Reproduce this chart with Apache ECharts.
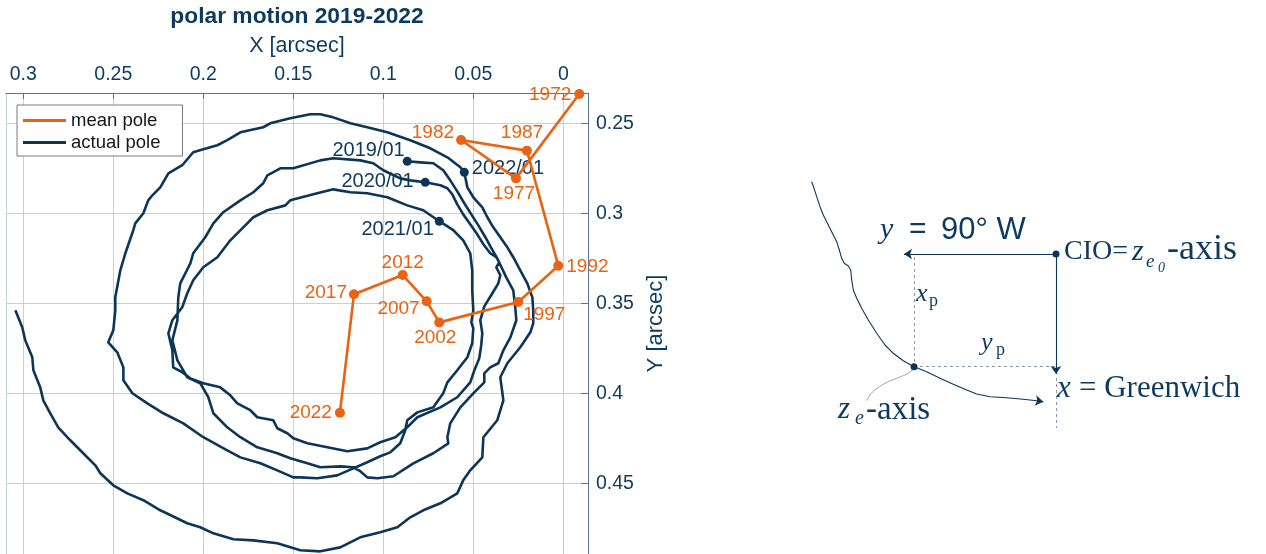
<!DOCTYPE html>
<html>
<head>
<meta charset="utf-8">
<title>polar motion 2019-2022</title>
<script src="https://cdn.jsdelivr.net/npm/echarts/dist/echarts.min.js"></script>
<style>
  html, body { margin: 0; padding: 0; background: #ffffff; }
  #chart { width: 1266px; height: 554px; }
</style>
</head>
<body>
<div id="chart"></div>
<script>
// ---- data -------------------------------------------------------------

// axis tick values (arcsec)
const xTickValues = [0, 0.05, 0.1, 0.15, 0.2, 0.25, 0.3];
const yTickValues = [0.25, 0.3, 0.35, 0.4, 0.45];

// mean pole, five-year steps
const meanYears = ['1972', '1977', '1982', '1987', '1992', '1997', '2002', '2007', '2012', '2017', '2022'];
const meanX = [-0.0089, 0.0263, 0.0568, 0.0202, 0.0028, 0.0250, 0.0689, 0.0759, 0.0892, 0.1163, 0.1241];
const meanY = [0.2337, 0.2806, 0.2593, 0.2652, 0.3291, 0.3493, 0.3606, 0.3489, 0.3343, 0.3450, 0.4108];

// start-of-year epochs on the actual pole path
const epochLabels = ['2019/01', '2020/01', '2021/01', '2022/01'];
const epochX = [0.0867, 0.0767, 0.0689, 0.0550];
const epochY = [0.2711, 0.2828, 0.3044, 0.2772];

// actual pole path [x, y], one array per year
const pole2019 = [[0.0867,0.2711],[0.0794,0.2717],[0.0722,0.2722],[0.0667,0.2761],[0.0628,0.2817],[0.0589,0.2878],[0.055,0.2944],[0.0511,0.3006],[0.0472,0.3067],[0.0433,0.3133],[0.04,0.3194],[0.0367,0.325],[0.0317,0.3356],[0.0278,0.3428],[0.0267,0.3522],[0.0261,0.3594],[0.0294,0.3689],[0.0333,0.3761],[0.0361,0.3833],[0.0406,0.3856],[0.0439,0.3889],[0.0439,0.3939],[0.05,0.4],[0.0572,0.4078],[0.0628,0.4167],[0.0644,0.4244],[0.0639,0.4278],[0.0722,0.4333],[0.0833,0.4389],[0.0944,0.4461],[0.1033,0.4472],[0.1089,0.4467],[0.1128,0.4433],[0.1167,0.4411],[0.1239,0.4406],[0.135,0.4411],[0.1422,0.4389],[0.1517,0.4361],[0.1589,0.4333],[0.17,0.43],[0.1794,0.4244],[0.1867,0.4189],[0.1944,0.4111],[0.1972,0.4022],[0.2017,0.3944],[0.2089,0.3911],[0.2144,0.3817],[0.2172,0.3706],[0.2144,0.3594],[0.2139,0.3467],[0.2128,0.3389],[0.2072,0.3278],[0.2056,0.3222],[0.1989,0.3133],[0.1944,0.3056],[0.1889,0.2994],[0.1794,0.2928],[0.1722,0.2883],[0.1667,0.2833],[0.1644,0.2789],[0.1572,0.275],[0.15,0.275],[0.135,0.2706],[0.1278,0.2694],[0.1128,0.2706],[0.1056,0.2722],[0.1,0.2761],[0.0906,0.2806],[0.085,0.2817],[0.0767,0.2828]];
const pole2020 = [[0.0767,0.2828],[0.0683,0.2844],[0.0644,0.2861],[0.0617,0.2894],[0.0589,0.295],[0.0556,0.3006],[0.0517,0.3061],[0.0478,0.3117],[0.0444,0.3172],[0.0406,0.3222],[0.0372,0.3244],[0.0356,0.3272],[0.0372,0.33],[0.035,0.3344],[0.0361,0.3389],[0.0394,0.3444],[0.0439,0.3517],[0.0461,0.3594],[0.045,0.3667],[0.0456,0.3733],[0.0467,0.3806],[0.0494,0.3872],[0.0517,0.3939],[0.0589,0.4022],[0.0683,0.4078],[0.0811,0.4133],[0.0867,0.4189],[0.0933,0.4244],[0.1017,0.4272],[0.1089,0.4306],[0.12,0.4322],[0.1311,0.43],[0.1422,0.4278],[0.15,0.425],[0.1533,0.4222],[0.1589,0.4194],[0.1611,0.415],[0.17,0.4133],[0.1739,0.4094],[0.1811,0.4056],[0.185,0.4011],[0.1906,0.3967],[0.2,0.3944],[0.2072,0.3917],[0.2117,0.3883],[0.2167,0.3856],[0.2172,0.3761],[0.2194,0.3667],[0.2172,0.3594],[0.2117,0.3522],[0.2089,0.3444],[0.2056,0.3372],[0.2,0.33],[0.1922,0.3244],[0.185,0.315],[0.1778,0.3078],[0.1722,0.3022],[0.1644,0.2983],[0.1544,0.2956],[0.1517,0.2928],[0.1367,0.2889],[0.1278,0.2867],[0.1183,0.2883],[0.1089,0.2889],[0.0978,0.2911],[0.0867,0.2956],[0.0778,0.2983],[0.0689,0.3044]];
const pole2021 = [[0.0689,0.3044],[0.0611,0.3094],[0.0556,0.315],[0.0517,0.3222],[0.0506,0.3317],[0.0506,0.3428],[0.05,0.3539],[0.0511,0.3606],[0.05,0.3639],[0.0506,0.3722],[0.0533,0.38],[0.0589,0.3872],[0.0644,0.3939],[0.0667,0.4],[0.0722,0.4078],[0.0811,0.4106],[0.0867,0.415],[0.0878,0.4206],[0.0906,0.4278],[0.0961,0.4328],[0.1017,0.435],[0.1089,0.4383],[0.1167,0.4417],[0.1256,0.4456],[0.1367,0.4472],[0.1461,0.4467],[0.15,0.4467],[0.1589,0.4428],[0.1683,0.4389],[0.1794,0.4356],[0.1867,0.4317],[0.2,0.4244],[0.2111,0.4167],[0.2222,0.4111],[0.2311,0.4056],[0.2394,0.4],[0.2444,0.3928],[0.2444,0.3856],[0.2478,0.3772],[0.2528,0.3717],[0.25,0.365],[0.2489,0.3539],[0.2489,0.3467],[0.2461,0.3317],[0.2433,0.3222],[0.2389,0.3094],[0.2378,0.3056],[0.2333,0.3],[0.2306,0.2928],[0.2283,0.29],[0.2239,0.2856],[0.2194,0.2778],[0.2117,0.2733],[0.2056,0.2661],[0.2,0.2644],[0.1922,0.2622],[0.1867,0.2594],[0.1794,0.255],[0.1667,0.2522],[0.1628,0.25],[0.1517,0.2472],[0.1406,0.245],[0.135,0.245],[0.1278,0.2467],[0.1183,0.25],[0.1089,0.2522],[0.0978,0.255],[0.085,0.2594],[0.0739,0.2639],[0.0644,0.2689],[0.0572,0.2744],[0.055,0.2772]];
const pole2022 = [[0.055,0.2772],[0.0533,0.2856],[0.05,0.2911],[0.045,0.2967],[0.0422,0.3022],[0.0389,0.3078],[0.035,0.3133],[0.0311,0.3189],[0.0278,0.3244],[0.0239,0.3317],[0.02,0.3389],[0.0172,0.3467],[0.0167,0.3539],[0.0167,0.3611],[0.0183,0.3661],[0.0239,0.3744],[0.0311,0.3833],[0.035,0.3911],[0.0333,0.4039],[0.0367,0.415],[0.0444,0.4244],[0.045,0.4356],[0.0517,0.4428],[0.0556,0.4483],[0.0589,0.4556],[0.0683,0.4611],[0.0778,0.465],[0.085,0.4689],[0.0922,0.4744],[0.1017,0.4772],[0.1128,0.48],[0.1239,0.4856],[0.135,0.4878],[0.1461,0.4872],[0.1589,0.4833],[0.1722,0.4817],[0.1833,0.4811],[0.1944,0.4778],[0.2017,0.4744],[0.2089,0.4722],[0.2239,0.465],[0.2333,0.4594],[0.2422,0.4556],[0.25,0.4511],[0.2572,0.4444],[0.26,0.44],[0.2667,0.4333],[0.2739,0.4261],[0.2806,0.4189],[0.285,0.4111],[0.2889,0.4039],[0.2906,0.3967],[0.2944,0.3872],[0.295,0.38],[0.2989,0.3706],[0.3006,0.3633],[0.3044,0.3539]];

// sketch of the pole coordinate frame (sketch units, y grows downwards)
const crustTrace = [[11.7,11.7],[14,18.3],[16.7,26.7],[20,36.7],[23.3,45],[28.3,55],[33.3,65],[36.7,71.7],[39.3,80],[41.7,88.3],[44.3,93.3],[48.3,96],[50.7,100],[51.7,110],[53.3,120],[56.7,128.3],[61.7,138.3],[68.3,150],[76.7,163.3],[85,175],[93.3,183.3],[103.3,190.7],[114,196.7],[126.7,201.7],[140,208.3],[153.3,214.3],[166.7,220],[176.7,224],[190,226.7],[206.7,227.7],[223.3,229.3],[236.7,230.7],[243.3,231.7]];
const leaderTrace = [[113.3,199.3],[106.7,204],[96.7,208.3],[85,213.3],[75,220],[70,225],[66.7,230.7]];
const cioPoint = [256, 84];
const zePoint = [114, 196.7];
const yAxisTip = [104, 84];
const xAxisTip = [256, 204];
const xAxisTail = [256, 258];

// ---- styles -----------------------------------------------------------
const NAVY = '#0c3558';
const ORANGE = '#ea6213';
const INK = '#0d3a5e';
const AXIS_LINE = '#5a7590';
const GRID_LINE = '#c5d0db';
const SANS = '"Liberation Sans", Arial, Helvetica, sans-serif';
const SERIF = '"Liberation Serif", "Times New Roman", serif';

const X_MIN = -0.01372, X_MAX = 0.30961;
const Y_MIN = 0.23317, Y_MAX = 0.48928;

const yearLabelPlacement = {
  '1972': { position: 'left', distance: 3, offset: [0, 1] },
  '1977': { position: 'bottom', distance: 1, offset: [-2, 0] },
  '1982': { position: 'left', distance: 2, offset: [0, -7] },
  '1987': { position: 'top', distance: 3, offset: [-5, 0] },
  '1992': { position: 'right', distance: 3, offset: [0, 1] },
  '1997': { position: 'bottom', distance: 0, offset: [26, -2] },
  '2002': { position: 'bottom', distance: 1, offset: [-4, 0] },
  '2007': { position: 'left', distance: 2, offset: [0, 7] },
  '2012': { position: 'top', distance: 0, offset: [0, 2] },
  '2017': { position: 'left', distance: 2, offset: [0, -2] },
  '2022': { position: 'left', distance: 3, offset: [0, 0] }
};
const epochLabelPlacement = {
  '2019/01': { position: 'left', distance: 0, offset: [2, -11] },
  '2020/01': { position: 'left', distance: 7, offset: [0, -1] },
  '2021/01': { position: 'left', distance: 1, offset: [0, 8] },
  '2022/01': { position: 'right', distance: 3, offset: [0, -4] }
};

function tickFormatter(ticks) {
  return function (v) {
    const hit = ticks.find(t => Math.abs(t - v) < 1e-6);
    return hit === undefined ? '' : String(hit);
  };
}

const meanData = meanYears.map((yr, i) => ({
  name: yr,
  value: [meanX[i], meanY[i]],
  label: Object.assign({ show: true }, yearLabelPlacement[yr])
}));
const epochData = epochLabels.map((lb, i) => ({
  name: lb,
  value: [epochX[i], epochY[i]],
  label: Object.assign({ show: true }, epochLabelPlacement[lb])
}));
const polePath = pole2019.concat(pole2020.slice(1), pole2021.slice(1), pole2022.slice(1));

function sketchText(text, x, y, size, opts) {
  const o = opts || {};
  const font = (o.italic ? 'italic ' : '') + size + 'px ' + (o.family || SERIF);
  return {
    type: 'text', x: x, y: y, silent: true, z: 10,
    style: {
      text: text, font: font, fill: INK,
      align: 'left', verticalAlign: 'middle',
      textAlign: 'left', textVerticalAlign: 'middle'
    }
  };
}

// ---- chart ------------------------------------------------------------
const chart = echarts.init(document.getElementById('chart'), null, { renderer: 'canvas' });

const option = {
  animation: false,
  backgroundColor: '#ffffff',
  title: {
    text: 'polar motion 2019-2022',
    left: 297, top: 5, padding: 0, textAlign: 'center',
    textStyle: { fontFamily: SANS, fontSize: 22.8, fontWeight: 'bold', color: INK }
  },
  legend: {
    data: ['mean pole', 'actual pole'],
    orient: 'vertical',
    left: 17, top: 105,
    padding: [6, 22, 4, 6],
    itemGap: 3,
    itemWidth: 43, itemHeight: 3,
    itemTextGap: 6,
    icon: 'rect',
    backgroundColor: '#ffffff',
    borderColor: '#7a7a7a', borderWidth: 1, borderRadius: 0,
    textStyle: { fontFamily: SANS, fontSize: 18.5, color: '#161616', lineHeight: 19 }
  },
  grid: [
    { left: 6, right: 678, top: 93, bottom: 0, containLabel: false, outerBoundsMode: 'none' },
    { left: 800, top: 170, width: 466, height: 270, containLabel: false, outerBoundsMode: 'none' }
  ],
  xAxis: [
    {
      type: 'value', gridIndex: 0, position: 'top', inverse: true,
      min: X_MIN, max: X_MAX,
      name: 'X [arcsec]', nameLocation: 'middle', nameGap: 36,
      nameTextStyle: { fontFamily: SANS, fontSize: 21.5, color: INK },
      axisLine: { show: true, onZero: false, lineStyle: { color: AXIS_LINE, width: 1 } },
      axisTick: { show: true, inside: true, length: 6, lineStyle: { color: AXIS_LINE } },
      axisLabel: {
        margin: 8, fontFamily: SANS, fontSize: 19.5, color: INK,
        showMinLabel: false, showMaxLabel: false,
        formatter: tickFormatter(xTickValues)
      },
      splitLine: { show: true, lineStyle: { color: GRID_LINE, width: 1 } }
    },
    { type: 'value', gridIndex: 1, min: 0, max: 466, show: false }
  ],
  yAxis: [
    {
      type: 'value', gridIndex: 0, position: 'right', inverse: true,
      min: Y_MIN, max: Y_MAX,
      name: 'Y [arcsec]', nameLocation: 'middle', nameGap: 57, nameRotate: 90,
      nameTextStyle: { fontFamily: SANS, fontSize: 22, color: INK },
      axisLine: { show: true, onZero: false, lineStyle: { color: AXIS_LINE, width: 1 } },
      axisTick: { show: true, inside: true, length: 7, lineStyle: { color: AXIS_LINE } },
      axisLabel: {
        margin: 8, fontFamily: SANS, fontSize: 19.5, color: INK,
        showMinLabel: false, showMaxLabel: false,
        formatter: tickFormatter(yTickValues)
      },
      splitLine: { show: true, lineStyle: { color: GRID_LINE, width: 1 } }
    },
    { type: 'value', gridIndex: 1, min: 0, max: 270, inverse: true, show: false }
  ],
  series: [
    {
      name: 'actual pole', type: 'line', xAxisIndex: 0, yAxisIndex: 0,
      data: polePath, showSymbol: false, symbol: 'none', smooth: false,
      lineStyle: { color: NAVY, width: 2.6, join: 'round' },
      itemStyle: { color: NAVY },
      z: 2, silent: true
    },
    {
      name: 'epochs', type: 'scatter', xAxisIndex: 0, yAxisIndex: 0,
      data: epochData, symbol: 'circle', symbolSize: 9,
      itemStyle: { color: NAVY, opacity: 1 },
      label: { formatter: '{b}', fontFamily: SANS, fontSize: 20, color: INK, opacity: 1 },
      z: 4, silent: true
    },
    {
      name: 'mean pole', type: 'line', xAxisIndex: 0, yAxisIndex: 0,
      data: meanData, symbol: 'circle', symbolSize: 10, showSymbol: true,
      lineStyle: { color: ORANGE, width: 2.6 },
      itemStyle: { color: ORANGE, opacity: 1 },
      label: { formatter: '{b}', fontFamily: SANS, fontSize: 19, color: ORANGE },
      clip: false, z: 5, silent: true
    },
    // sketch: path of the pole on the crust
    {
      name: 'crust', type: 'line', xAxisIndex: 1, yAxisIndex: 1,
      data: crustTrace, showSymbol: false, symbol: 'none',
      lineStyle: { color: NAVY, width: 1.1 }, silent: true, z: 2
    },
    {
      name: 'leader', type: 'line', xAxisIndex: 1, yAxisIndex: 1,
      data: leaderTrace, showSymbol: false, symbol: 'none', smooth: true,
      lineStyle: { color: '#8c8c8c', width: 0.8 }, silent: true, z: 2
    },
    {
      name: 'frame arrows', type: 'lines', coordinateSystem: 'cartesian2d',
      xAxisIndex: 1, yAxisIndex: 1,
      symbol: ['none', 'arrow'], symbolSize: [5, 8],
      lineStyle: { color: NAVY, width: 1.1, opacity: 1, curveness: 0 },
      data: [
        { coords: [cioPoint, yAxisTip] },
        { coords: [cioPoint, xAxisTip] },
        { coords: [crustTrace[crustTrace.length - 2], crustTrace[crustTrace.length - 1]] }
      ],
      silent: true, z: 3
    },
    {
      name: 'offsets', type: 'lines', coordinateSystem: 'cartesian2d',
      xAxisIndex: 1, yAxisIndex: 1,
      symbol: ['none', 'none'],
      lineStyle: { color: '#8a98a6', width: 1, type: [3, 3], opacity: 1, curveness: 0 },
      data: [
        { coords: [[zePoint[0], yAxisTip[1] + 3], zePoint] },
        { coords: [zePoint, [cioPoint[0], zePoint[1]]] },
        { coords: [[xAxisTip[0], xAxisTip[1] + 4], xAxisTail] }
      ],
      silent: true, z: 2
    },
    {
      name: 'sketch points', type: 'scatter', xAxisIndex: 1, yAxisIndex: 1,
      data: [cioPoint, zePoint], symbol: 'circle', symbolSize: 7,
      itemStyle: { color: NAVY, opacity: 1 }, silent: true, z: 4
    }
  ],
  graphic: [
    sketchText('y', 880, 230, 30, { italic: true }),
    sketchText('=', 909, 230, 30, { family: SANS }),
    sketchText('90° W', 941, 230, 31, { family: SANS }),
    sketchText('CIO=', 1064, 252, 28),
    sketchText('z', 1132, 252, 30, { italic: true }),
    sketchText('e', 1146, 262, 19, { italic: true }),
    sketchText('0', 1158, 268, 14, { italic: true }),
    sketchText('-axis', 1167, 250, 36),
    sketchText('x', 916, 294, 26, { italic: true }),
    sketchText('p', 929, 301, 18),
    sketchText('y', 981, 343, 26, { italic: true }),
    sketchText('p', 996, 350, 18),
    sketchText('x', 1057, 389, 31, { italic: true }),
    sketchText('= Greenwich', 1079, 389, 31),
    sketchText('z', 838, 410, 31, { italic: true }),
    sketchText('e', 855, 419, 20, { italic: true }),
    sketchText('-axis', 866, 410, 33)
  ]
};

chart.setOption(option);
</script>
</body>
</html>
